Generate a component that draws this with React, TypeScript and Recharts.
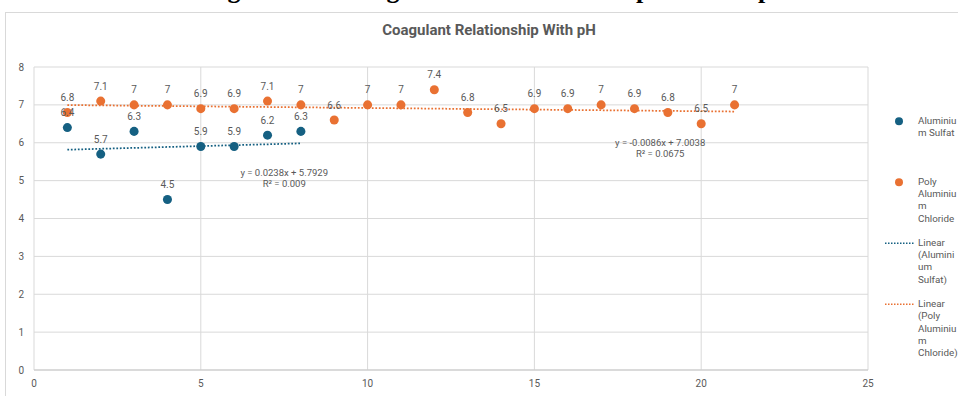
import React from 'react';
import {
  ScatterChart,
  Scatter,
  XAxis,
  YAxis,
  ZAxis,
  CartesianGrid,
  LabelList,
  Legend,
  ReferenceDot,
} from 'recharts';

// sample number (x) and pH (y) for each coagulant
const sulfatRuns = [1, 2, 3, 4, 5, 6, 7, 8];
const sulfatPh = [6.4, 5.7, 6.3, 4.5, 5.9, 5.9, 6.2, 6.3];

const pacRuns = [1, 2, 3, 4, 5, 6, 7, 8, 9, 10, 11, 12, 13, 14, 15, 16, 17, 18, 19, 20, 21];
const pacPh = [6.8, 7.1, 7, 7, 6.9, 6.9, 7.1, 7, 6.6, 7, 7, 7.4, 6.8, 6.5, 6.9, 6.9, 7, 6.9, 6.8, 6.5, 7];

const xTicks = [0, 5, 10, 15, 20, 25];
const yTicks = [0, 1, 2, 3, 4, 5, 6, 7, 8];

const sulfatEquation = ['y = 0.0238x + 5.7929', 'R² = 0.009'];
const pacEquation = ['y = -0.0086x + 7.0038', 'R² = 0.0675'];

const BLUE = '#156082';
const ORANGE = '#E97132';
const GREY = '#595959';
const GRID = '#d9d9d9';
const FONT = 'Roboto, "Liberation Sans", sans-serif';

const toPoints = (xs: number[], ys: number[]) => xs.map((x, i) => ({ x, y: ys[i] }));

// least squares line over the whole series, drawn from first to last x
const trend = (xs: number[], ys: number[]) => {
  const n = xs.length;
  const mx = xs.reduce((a, b) => a + b, 0) / n;
  const my = ys.reduce((a, b) => a + b, 0) / n;
  let sxy = 0;
  let sxx = 0;
  xs.forEach((x, i) => {
    sxy += (x - mx) * (ys[i] - my);
    sxx += (x - mx) * (x - mx);
  });
  const slope = sxy / sxx;
  const icpt = my - slope * mx;
  const x0 = xs[0];
  const x1 = xs[n - 1];
  return [
    { x: x0, y: icpt + slope * x0 },
    { x: x1, y: icpt + slope * x1 },
  ];
};

const sulfatData = toPoints(sulfatRuns, sulfatPh);
const pacData = toPoints(pacRuns, pacPh);
const sulfatTrend = trend(sulfatRuns, sulfatPh);
const pacTrend = trend(pacRuns, pacPh);

const legendItems = [
  { kind: 'dot', color: BLUE, lines: ['Aluminiu', 'm Sulfat'] },
  { kind: 'dot', color: ORANGE, lines: ['Poly', 'Aluminiu', 'm', 'Chloride'] },
  { kind: 'line', color: BLUE, lines: ['Linear', '(Alumini', 'um', 'Sulfat)'] },
  { kind: 'line', color: ORANGE, lines: ['Linear', '(Poly', 'Aluminiu', 'm', 'Chloride)'] },
];

const LegendBox = () => (
  <div style={{ width: 80, fontFamily: FONT, fontSize: 9.8, color: GREY }}>
    {legendItems.map((item, i) => (
      <div key={i} style={{ height: 61.2, display: 'flex' }}>
        <svg width={34} height={12.3} style={{ flex: 'none' }}>
          {item.kind === 'dot' ? (
            <circle cx={15} cy={6.2} r={4} fill={item.color} />
          ) : (
            <line x1={1} x2={30} y1={6.2} y2={6.2} stroke={item.color} strokeWidth={1.5} strokeDasharray="1.5 1.5" />
          )}
        </svg>
        <div style={{ lineHeight: '12.3px' }}>
          {item.lines.map((l, j) => (
            <div key={j} style={{ whiteSpace: 'nowrap' }}>{l}</div>
          ))}
        </div>
      </div>
    ))}
  </div>
);

const EquationLabel = (lines: string[]) => (props: any) => {
  const { viewBox } = props;
  const cx = viewBox.x + (viewBox.width || 0) / 2;
  const cy = viewBox.y + (viewBox.height || 0) / 2;
  return (
    <text x={cx} y={cy} textAnchor="middle" fontFamily={FONT} fontSize={9.5} fill={GREY}>
      <tspan x={cx} dy={-2}>{lines[0]}</tspan>
      <tspan x={cx} dy={11}>{lines[1]}</tspan>
    </text>
  );
};

export default function App() {
  return (
    <div style={{ position: 'fixed', left: 0, top: 0, width: 958, height: 396, background: '#fff', overflow: 'hidden' }}>
      {/* bottom of the document heading that sits above the chart */}
      <svg width={958} height={12} style={{ position: 'absolute', left: 0, top: 0 }}>
        <g fontFamily='"Liberation Serif", serif' fontWeight="bold" fontSize={26} fill="#000">
          <text x={234} y={-2} textAnchor="middle">g</text>
          <text x={393} y={-2} textAnchor="middle">g</text>
          <text x={636} y={-2}>p</text>
          <text x={758} y={-2}>p</text>
        </g>
      </svg>
      <div style={{ position: 'absolute', left: 5, top: 12, width: 1000, height: 420, border: `1px solid ${GRID}` }} />
      <div
        style={{
          position: 'absolute',
          left: 289,
          width: 400,
          top: 21,
          textAlign: 'center',
          fontFamily: FONT,
          fontWeight: 'bold',
          fontSize: 15,
          color: GREY,
        }}
      >
        Coagulant Relationship With pH
      </div>
      <div style={{ position: 'absolute', left: 0, top: 0 }}>
        <ScatterChart width={958} height={396} margin={{ top: 67, right: 90, bottom: 6, left: 4 }}>
          <CartesianGrid stroke={GRID} />
          <XAxis
            type="number"
            dataKey="x"
            domain={[0, 25]}
            ticks={xTicks}
            height={20}
            tickSize={0}
            tickMargin={10}
            stroke="#c8c8c8"
            tick={{ fill: GREY, fontSize: 10, fontFamily: FONT }}
          />
          <YAxis
            type="number"
            dataKey="y"
            domain={[0, 8]}
            ticks={yTicks}
            width={30}
            axisLine={false}
            tickSize={0}
            tickMargin={10}
            tick={{ fill: GREY, fontSize: 10, fontFamily: FONT }}
          />
          <ZAxis range={[50, 50]} />
          <Scatter name="Aluminium Sulfat" data={sulfatData} fill={BLUE} isAnimationActive={false}>
            <LabelList dataKey="y" position="top" offset={7} fill={GREY} fontSize={10} fontFamily={FONT} />
          </Scatter>
          <Scatter name="Poly Aluminium Chloride" data={pacData} fill={ORANGE} isAnimationActive={false}>
            <LabelList dataKey="y" position="top" offset={7} fill={GREY} fontSize={10} fontFamily={FONT} />
          </Scatter>
          <Scatter
            name="Linear (Aluminium Sulfat)"
            data={sulfatTrend}
            line={{ stroke: BLUE, strokeWidth: 1.75, strokeDasharray: '1.75 1.75' }}
            shape={() => <g />}
            isAnimationActive={false}
          />
          <Scatter
            name="Linear (Poly Aluminium Chloride)"
            data={pacTrend}
            line={{ stroke: ORANGE, strokeWidth: 1.75, strokeDasharray: '1.75 1.75' }}
            shape={() => <g />}
            isAnimationActive={false}
          />
          <ReferenceDot x={7.5} y={5.07} r={0} ifOverflow="visible" label={EquationLabel(sulfatEquation)} />
          <ReferenceDot x={18.77} y={5.85} r={0} ifOverflow="visible" label={EquationLabel(pacEquation)} />
          <Legend
            layout="horizontal"
            verticalAlign="middle"
            align="center"
            content={() => <LegendBox />}
            wrapperStyle={{ left: 884, top: 114.5, width: 80, height: 250 }}
          />
        </ScatterChart>
      </div>
    </div>
  );
}
